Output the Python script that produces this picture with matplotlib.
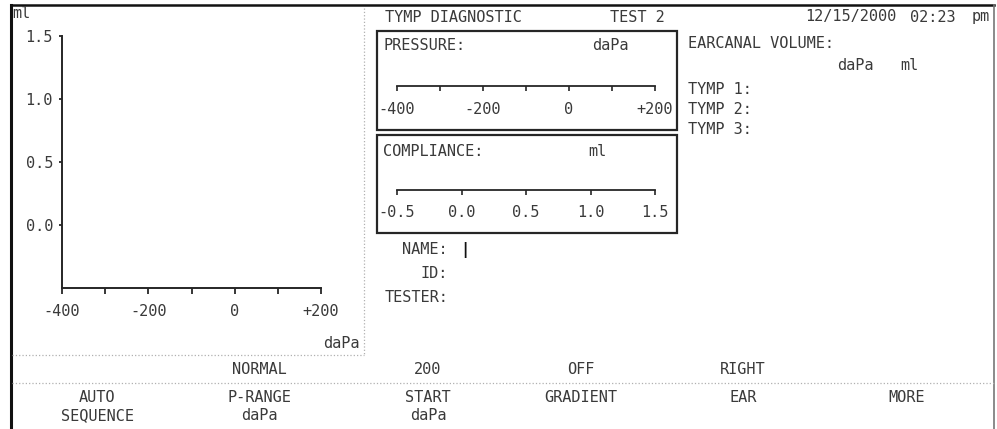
import matplotlib
matplotlib.use('Agg')
import matplotlib.pyplot as plt
from matplotlib.patches import Rectangle

W, H = 997, 429
plt.rcParams['font.family'] = 'DejaVu Sans Mono'
plt.rcParams['font.size'] = 11

ink = '#3a3a3a'
line_ink = '#262626'
dots = '#b0b0b0'

# screen content
pressure_ticks = [-400, -300, -200, -100, 0, 100, 200]
pressure_labels = ['-400', '', '-200', '', '0', '', '+200']
compliance_ticks = [-0.5, 0.0, 0.5, 1.0, 1.5]
compliance_labels = ['-0.5', '0.0', '0.5', '1.0', '1.5']
ml_ticks = [0.0, 0.5, 1.0, 1.5]
ml_labels = ['0.0', '0.5', '1.0', '1.5']
patient_fields = ['NAME:', 'ID:', 'TESTER:']
tymp_rows = ['TYMP 1:', 'TYMP 2:', 'TYMP 3:']
softkey_values = ['', 'NORMAL', '200', 'OFF', 'RIGHT', '']
softkey_names = [['AUTO', 'SEQUENCE'], ['P-RANGE', 'daPa'], ['START', 'daPa'],
                 ['GRADIENT'], ['EAR'], ['MORE']]
softkey_x = [97, 259, 428, 581, 743, 907]
date_str = '12/15/2000'
time_str = '02:23'

fig = plt.figure(figsize=(W / 100, H / 100), dpi=100)


def px_axes(x0, y0, x1, y1):
    # pixel box (top-down y) -> figure fraction axes
    return fig.add_axes([x0 / W, 1 - y1 / H, (x1 - x0) / W, (y1 - y0) / H])


bg = fig.add_axes([0, 0, 1, 1])
bg.set_xlim(0, W)
bg.set_ylim(H, 0)
bg.axis('off')

# frame and separators
bg.plot([11, 11], [5, H], color='#111111', lw=2.2)
bg.plot([11, 994], [5, 5], color='#111111', lw=1.8)
bg.plot([994, 994], [5, H], color='#777777', lw=1.2)
bg.plot([364, 364], [8, 355], color=dots, lw=0.9, ls=':')
bg.plot([12, 364], [355, 355], color=dots, lw=0.9, ls=':')
bg.plot([12, 994], [383, 383], color=dots, lw=0.9, ls=':')

# left graph
ax = px_axes(62, 36, 321, 288)
ax.patch.set_alpha(0)
ax.set_xlim(-400, 200)
ax.set_ylim(-0.5, 1.5)
ax.set_xticks(pressure_ticks, pressure_labels)
ax.set_yticks(ml_ticks, ml_labels)
for s in ['top', 'right']:
    ax.spines[s].set_visible(False)
for s in ['left', 'bottom']:
    ax.spines[s].set_linewidth(1.4)
    ax.spines[s].set_color(line_ink)
ax.tick_params(axis='x', direction='out', length=4.5, width=1.3, pad=7,
               color=line_ink, labelcolor=ink)
ax.tick_params(axis='y', direction='out', length=2.5, width=1.3, pad=4,
               color=line_ink, labelcolor=ink)
bg.text(12, 13, 'ml', ha='left', va='center', color=ink)
bg.text(360, 343, 'daPa', ha='right', va='center', color=ink)


# middle panel
def scale_bar(y, ticks, labels, lim, pad):
    sb = px_axes(397, y - 10, 655, y)
    sb.patch.set_alpha(0)
    sb.set_xlim(lim)
    sb.set_yticks([])
    sb.set_xticks(ticks, labels)
    for s in ['top', 'right', 'left']:
        sb.spines[s].set_visible(False)
    sb.spines['bottom'].set_linewidth(1.3)
    sb.spines['bottom'].set_color(line_ink)
    sb.tick_params(axis='x', direction='out', length=3.6, width=1.2, pad=pad,
                   color=line_ink, labelcolor=ink)
    return sb


bg.text(385, 17, 'TYMP DIAGNOSTIC', ha='left', va='center', color=ink)
bg.text(665, 17, 'TEST 2', ha='right', va='center', color=ink)

bg.add_patch(Rectangle((377, 31), 300, 99, fill=False, ec=line_ink, lw=1.6))
bg.text(383, 45, 'PRESSURE:', ha='left', va='center', color=ink)
bg.text(592, 45, 'daPa', ha='left', va='center', color=ink)
scale_bar(86, pressure_ticks, pressure_labels, (-400, 200), 8)

bg.add_patch(Rectangle((377, 135), 300, 98, fill=False, ec=line_ink, lw=1.6))
bg.text(383, 152, 'COMPLIANCE:', ha='left', va='center', color=ink)
bg.text(588, 152, 'ml', ha='left', va='center', color=ink)
scale_bar(190, compliance_ticks, compliance_labels, (-0.5, 1.5), 7)

for i, f in enumerate(patient_fields):
    bg.text(448, 250 + i * 23.5, f, ha='right', va='center', color=ink)
bg.text(465, 250, '|', ha='center', va='center', color='#111111',
        fontweight='bold')

# right panel
bg.text(805, 17, date_str, ha='left', va='center', color=ink)
bg.text(910, 17, time_str, ha='left', va='center', color=ink)
bg.text(972, 17, 'pm', ha='left', va='center', color=ink)
bg.text(688, 43, 'EARCANAL VOLUME:', ha='left', va='center', color=ink)
bg.text(837, 65, 'daPa', ha='left', va='center', color=ink)
bg.text(900, 65, 'ml', ha='left', va='center', color=ink)
for i, r in enumerate(tymp_rows):
    bg.text(688, 89 + i * 20.5, r, ha='left', va='center', color=ink)

# soft keys
for x, v, names in zip(softkey_x, softkey_values, softkey_names):
    if v:
        bg.text(x, 370, v, ha='center', va='center', color=ink)
    for j, n in enumerate(names):
        bg.text(x, 397 + j * 19, n, ha='center', va='center', color=ink)

fig.savefig('out.png', dpi=100)
